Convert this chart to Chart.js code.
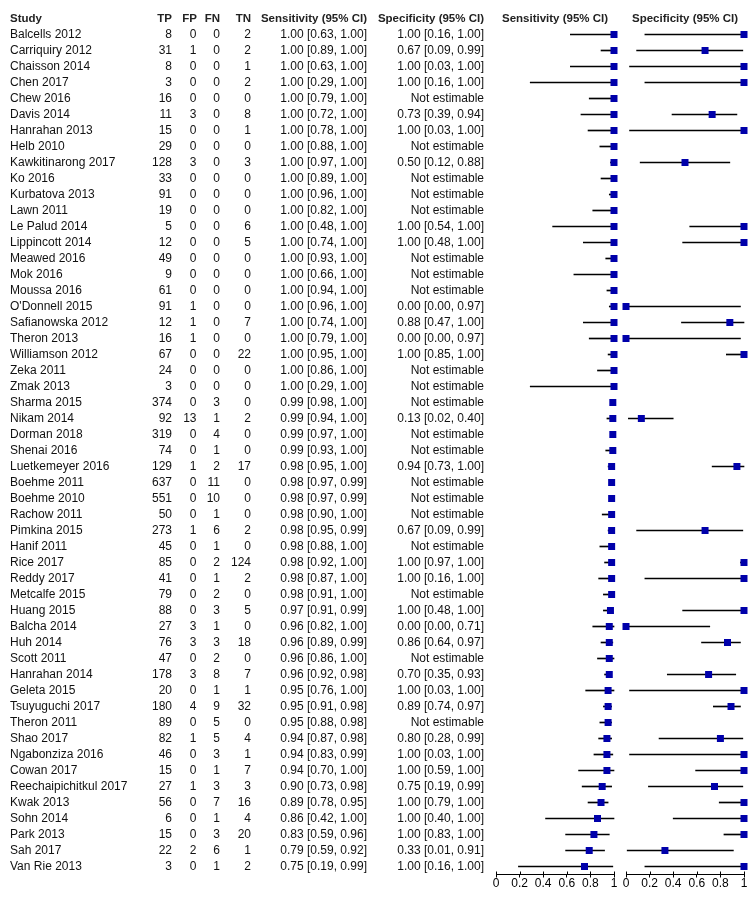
<!DOCTYPE html>
<html>
<head>
<meta charset="utf-8">
<script src="https://cdn.jsdelivr.net/npm/chart.js@4.4.1/dist/chart.umd.min.js"></script>
<style>
  html, body { margin: 0; padding: 0; background: #fff; }
  #wrap { position: relative; width: 755px; height: 900px; background: #fff; }
  #wrap canvas { position: absolute; left: 0; top: 0; }
</style>
</head>
<body>
<div id="wrap">
  <canvas id="sens" width="755" height="900"></canvas>
  <canvas id="spec" width="755" height="900"></canvas>
</div>
<script>
const studies = ["Balcells 2012","Carriquiry 2012","Chaisson 2014","Chen 2017","Chew 2016","Davis 2014","Hanrahan 2013","Helb 2010","Kawkitinarong 2017","Ko 2016","Kurbatova 2013","Lawn 2011","Le Palud 2014","Lippincott 2014","Meawed 2016","Mok 2016","Moussa 2016","O'Donnell 2015","Safianowska 2012","Theron 2013","Williamson 2012","Zeka 2011","Zmak 2013","Sharma 2015","Nikam 2014","Dorman 2018","Shenai 2016","Luetkemeyer 2016","Boehme 2011","Boehme 2010","Rachow 2011","Pimkina 2015","Hanif 2011","Rice 2017","Reddy 2017","Metcalfe 2015","Huang 2015","Balcha 2014","Huh 2014","Scott 2011","Hanrahan 2014","Geleta 2015","Tsuyuguchi 2017","Theron 2011","Shao 2017","Ngabonziza 2016","Cowan 2017","Reechaipichitkul 2017","Kwak 2013","Sohn 2014","Park 2013","Sah 2017","Van Rie 2013"];
const tp = [8,31,8,3,16,11,15,29,128,33,91,19,5,12,49,9,61,91,12,16,67,24,3,374,92,319,74,129,637,551,50,273,45,85,41,79,88,27,76,47,178,20,180,89,82,46,15,27,56,6,15,22,3];
const fp = [0,1,0,0,0,3,0,0,3,0,0,0,0,0,0,0,0,1,1,1,0,0,0,0,13,0,0,1,0,0,0,1,0,0,0,0,0,3,3,0,3,0,4,0,1,0,0,1,0,0,0,2,0];
const fn = [0,0,0,0,0,0,0,0,0,0,0,0,0,0,0,0,0,0,0,0,0,0,0,3,1,4,1,2,11,10,1,6,1,2,1,2,3,1,3,2,8,1,9,5,5,3,1,3,7,1,3,6,1];
const tn = [2,2,1,2,0,8,1,0,3,0,0,0,6,5,0,0,0,0,7,0,22,0,0,0,2,0,0,17,0,0,0,2,0,124,2,0,5,0,18,0,7,1,32,0,4,1,7,3,16,4,20,1,2];

const sensEst = [1,1,1,1,1,1,1,1,1,1,1,1,1,1,1,1,1,1,1,1,1,1,1,0.99,0.99,0.99,0.99,0.98,0.98,0.98,0.98,0.98,0.98,0.98,0.98,0.98,0.97,0.96,0.96,0.96,0.96,0.95,0.95,0.95,0.94,0.94,0.94,0.90,0.89,0.86,0.83,0.79,0.75];
const sensLo = [0.63,0.89,0.63,0.29,0.79,0.72,0.78,0.88,0.97,0.89,0.96,0.82,0.48,0.74,0.93,0.66,0.94,0.96,0.74,0.79,0.95,0.86,0.29,0.98,0.94,0.97,0.93,0.95,0.97,0.97,0.90,0.95,0.88,0.92,0.87,0.91,0.91,0.82,0.89,0.86,0.92,0.76,0.91,0.88,0.87,0.83,0.70,0.73,0.78,0.42,0.59,0.59,0.19];
const sensHi = [1,1,1,1,1,1,1,1,1,1,1,1,1,1,1,1,1,1,1,1,1,1,1,1,1,1,1,1,0.99,0.99,1,0.99,1,1,1,1,0.99,1,0.99,1,0.98,1,0.98,0.98,0.98,0.99,1,0.98,0.95,1,0.96,0.92,0.99];

const specEst = [1,0.67,1,1,null,0.73,1,null,0.50,null,null,null,1,1,null,null,null,0,0.88,0,1,null,null,null,0.13,null,null,0.94,null,null,null,0.67,null,1,1,null,1,0,0.86,null,0.70,1,0.89,null,0.80,1,1,0.75,1,1,1,0.33,1];
const specLo = [0.16,0.09,0.03,0.16,null,0.39,0.03,null,0.12,null,null,null,0.54,0.48,null,null,null,0,0.47,0,0.85,null,null,null,0.02,null,null,0.73,null,null,null,0.09,null,0.97,0.16,null,0.48,0,0.64,null,0.35,0.03,0.74,null,0.28,0.03,0.59,0.19,0.79,0.40,0.83,0.01,0.16];
const specHi = [1,0.99,1,1,null,0.94,1,null,0.88,null,null,null,1,1,null,null,null,0.97,1,0.97,1,null,null,null,0.40,null,null,1,null,null,null,0.99,null,1,1,null,1,0.71,0.97,null,0.93,1,0.97,null,0.99,1,1,0.99,1,1,1,0.91,1];

const axisTicks = [0, 0.2, 0.4, 0.6, 0.8, 1];

const FONT = '"Liberation Sans", Arial, Helvetica, sans-serif';
const TEXT = '#111';
const MARK = '#0000AA';

function fmt(e, lo, hi) {
  if (e === null) return 'Not estimable';
  return e.toFixed(2) + ' [' + lo.toFixed(2) + ', ' + hi.toFixed(2) + ']';
}

// Table text drawn next to the sensitivity plot, aligned to its category scale
const tablePlugin = {
  id: 'tableText',
  afterDraw(chart) {
    const ctx = chart.ctx;
    const ys = chart.scales.y;
    ctx.save();
    ctx.textBaseline = 'middle';
    ctx.fillStyle = '#222';
    ctx.font = 'bold 11.5px ' + FONT;
    const hy = 19;
    ctx.textAlign = 'left';
    ctx.fillText('Study', 10, hy);
    ctx.textAlign = 'right';
    ctx.fillText('TP', 172, hy);
    ctx.fillText('FP', 197, hy);
    ctx.fillText('FN', 220, hy);
    ctx.fillText('TN', 251, hy);
    ctx.fillText('Sensitivity (95% CI)', 367, hy);
    ctx.fillText('Specificity (95% CI)', 484, hy);
    ctx.fillStyle = TEXT;
    ctx.font = '12px ' + FONT;
    studies.forEach((s, i) => {
      const y = ys.getPixelForValue(i);
      ctx.textAlign = 'left';
      ctx.fillText(s, 10, y);
      ctx.textAlign = 'right';
      ctx.fillText(String(tp[i]), 172, y);
      ctx.fillText(String(fp[i]), 196.5, y);
      ctx.fillText(String(fn[i]), 220, y);
      ctx.fillText(String(tn[i]), 251, y);
      ctx.fillText(fmt(sensEst[i], sensLo[i], sensHi[i]), 367, y);
      ctx.fillText(fmt(specEst[i], specLo[i], specHi[i]), 484, y);
    });
    ctx.restore();
  }
};

// Plot heading + short upper half of the tick marks
const plotDeco = {
  id: 'plotDeco',
  afterDraw(chart, args, opts) {
    const ctx = chart.ctx;
    const xs = chart.scales.x;
    const ca = chart.chartArea;
    ctx.save();
    ctx.fillStyle = '#222';
    ctx.font = 'bold 11.5px ' + FONT;
    ctx.textAlign = 'center';
    ctx.textBaseline = 'middle';
    ctx.fillText(opts.title, (ca.left + ca.right) / 2, 19);
    ctx.strokeStyle = '#000';
    ctx.lineWidth = 1;
    ctx.beginPath();
    xs.ticks.forEach(t => {
      const px = Math.round(xs.getPixelForValue(t.value)) + 0.5;
      ctx.moveTo(px, ca.bottom - 3);
      ctx.lineTo(px, ca.bottom);
    });
    ctx.stroke();
    ctx.restore();
  }
};

function makeChart(id, est, lo, hi, title, padLeft, padRight, extraPlugins) {
  const points = [];
  const bars = [];
  studies.forEach((s, i) => {
    if (est[i] !== null) points.push({ x: est[i], y: s });
    bars.push(lo[i] !== null ? [lo[i], hi[i]] : null);
  });
  return new Chart(document.getElementById(id), {
    type: 'bar',
    data: {
      labels: studies,
      datasets: [
        {
          type: 'scatter',
          data: points,
          order: 0,
          pointStyle: 'rect',
          pointRadius: 4.95,
          pointHoverRadius: 4.95,
          pointBorderWidth: 0,
          pointBackgroundColor: MARK,
          pointBorderColor: MARK,
          clip: false
        },
        {
          type: 'bar',
          data: bars,
          order: 1,
          backgroundColor: '#000',
          borderWidth: 0,
          barThickness: 1,
          clip: false
        }
      ]
    },
    options: {
      indexAxis: 'y',
      responsive: false,
      animation: false,
      devicePixelRatio: 1,
      events: [],
      layout: { padding: { left: padLeft, right: padRight, top: 26.5, bottom: 10.5 } },
      plugins: {
        legend: { display: false },
        tooltip: { enabled: false },
        title: { display: false },
        plotDeco: { title: title }
      },
      scales: {
        y: {
          type: 'category',
          display: false,
          offset: true
        },
        x: {
          type: 'linear',
          min: 0,
          max: 1,
          position: 'bottom',
          border: { display: true, color: '#000', width: 1 },
          grid: { display: true, drawOnChartArea: false, drawTicks: true, tickLength: 3, color: '#000', lineWidth: 1 },
          afterBuildTicks: (scale) => { scale.ticks = axisTicks.map(v => ({ value: v })); },
          ticks: {
            color: '#000',
            padding: 0,
            maxRotation: 0,
            autoSkip: false,
            font: { family: FONT, size: 12, lineHeight: 1 },
            callback: (v) => String(v)
          }
        }
      }
    },
    plugins: [plotDeco].concat(extraPlugins)
  });
}

makeChart('sens', sensEst, sensLo, sensHi, 'Sensitivity (95% CI)', 496, 141, [tablePlugin]);
makeChart('spec', specEst, specLo, specHi, 'Specificity (95% CI)', 626, 11, []);
</script>
</body>
</html>
